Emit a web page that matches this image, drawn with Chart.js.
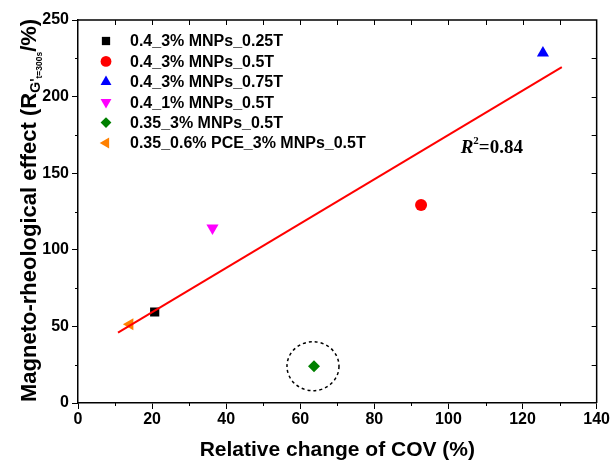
<!DOCTYPE html>
<html>
<head>
<meta charset="utf-8">
<script src="https://cdn.jsdelivr.net/npm/chart.js@4.4.1/dist/chart.umd.min.js"></script>
<style>
  body { margin: 0; background: #fff; }
</style>
</head>
<body>
<canvas id="scatterChart" width="611" height="462"></canvas>
<script>
// Séries (une mesure par échantillon)
var seriesLabels = ['0.4_3% MNPs_0.25T', '0.4_3% MNPs_0.5T', '0.4_3% MNPs_0.75T',
                    '0.4_1% MNPs_0.5T', '0.35_3% MNPs_0.5T', '0.35_0.6% PCE_3% MNPs_0.5T'];
var covChange = [20.7, 92.6, 125.5, 36.3, 63.7, 14.0];
var mrEffect  = [59.4, 129.2, 228.5, 114.2, 24.0, 51.4];

// droite de régression (extrémités)
var fitX = [10.8, 130.6];
var fitY = [45.9, 219.3];
var r2Value = '0.84';
var outlierIndex = 4;

var xTicks = [0, 20, 40, 60, 80, 100, 120, 140];
var yTicks = [0, 50, 100, 150, 200, 250];

var colors    = ['#000000', '#ff0000', '#0000ff', '#ff00ff', '#008000', '#ff8000'];
var styles    = ['rect', 'circle', 'triangle', 'triangle', 'rectRot', 'triangle'];
var rotations = [0, 0, 0, 180, 0, -90];
var radii     = [6.5, 6, 7, 7, 6, 7];

var sansFont = 'Liberation Sans, Arial, sans-serif';

var datasets = [{
    type: 'line',
    label: 'fit',
    data: fitX.map(function (x, i) { return { x: x, y: fitY[i] }; }),
    borderColor: '#ff0000',
    borderWidth: 2,
    pointRadius: 0,
    fill: false,
    order: -1
}];
seriesLabels.forEach(function (lab, i) {
    datasets.push({
        label: lab,
        data: [{ x: covChange[i], y: mrEffect[i] }],
        backgroundColor: colors[i],
        borderColor: colors[i],
        borderWidth: 0,
        pointStyle: styles[i],
        rotation: rotations[i],
        pointRadius: radii[i]
    });
});

// cadre, petites graduations, légende, titres
var decorations = {
    id: 'decorations',
    afterDatasetsDraw: function (chart) {
        var ctx = chart.ctx;
        var a = chart.chartArea;
        var xs = chart.scales.x, ys = chart.scales.y;
        ctx.save();
        ctx.strokeStyle = '#000';
        ctx.lineWidth = 1.5;
        ctx.beginPath();
        ctx.moveTo(a.left, a.top); ctx.lineTo(a.right, a.top); ctx.lineTo(a.right, a.bottom);
        ctx.stroke();

        ctx.lineWidth = 1;
        ctx.beginPath();
        for (var v = 10; v < 140; v += 10) {
            var px = Math.round(xs.getPixelForValue(v)) + 0.5;
            ctx.moveTo(px, a.top); ctx.lineTo(px, a.top + 5);
            if (v % 20 !== 0) { ctx.moveTo(px, a.bottom); ctx.lineTo(px, a.bottom + 3); }
        }
        for (var w = 25; w < 250; w += 25) {
            var py = Math.round(ys.getPixelForValue(w)) + 0.5;
            ctx.moveTo(a.right, py); ctx.lineTo(a.right - 5, py);
            if (w % 50 !== 0) { ctx.moveTo(a.left, py); ctx.lineTo(a.left - 3, py); }
        }
        ctx.stroke();

        // cercle pointillé autour de l'échantillon écarté
        var cx = xs.getPixelForValue(covChange[outlierIndex]);
        var cy = ys.getPixelForValue(mrEffect[outlierIndex]);
        ctx.setLineDash([3, 3]);
        ctx.lineWidth = 1.5;
        ctx.beginPath();
        ctx.ellipse(cx - 1, cy, 26, 24.5, 0, 0, Math.PI * 2);
        ctx.stroke();
        ctx.setLineDash([]);

        // légende
        ctx.font = 'bold 16px ' + sansFont;
        ctx.textBaseline = 'middle';
        ctx.textAlign = 'left';
        seriesLabels.forEach(function (lab, i) {
            var ly = 41 + i * 20.4;
            ctx.fillStyle = colors[i];
            Chart.helpers.drawPoint(ctx, {
                pointStyle: styles[i], rotation: rotations[i], radius: radii[i] * 0.9, borderWidth: 0
            }, 106, ly);
            ctx.fillStyle = '#000';
            ctx.fillText(lab, 130, ly + 1);
        });

        // R²
        var rx = xs.getPixelForValue(103.3);
        var ry = ys.getPixelForValue(163.2);
        ctx.textBaseline = 'alphabetic';
        ctx.fillStyle = '#000';
        ctx.font = 'italic bold 19px Liberation Serif, Times New Roman, serif';
        ctx.fillText('R', rx, ry);
        rx += ctx.measureText('R').width;
        ctx.font = 'bold 11px Liberation Serif, Times New Roman, serif';
        ctx.fillText('2', rx, ry - 9);
        rx += ctx.measureText('2').width;
        ctx.font = 'bold 19px Liberation Serif, Times New Roman, serif';
        ctx.fillText('=' + r2Value, rx, ry);

        // titre de l'axe x
        ctx.font = 'bold 21px ' + sansFont;
        ctx.textAlign = 'center';
        ctx.fillText('Relative change of COV (%)', (a.left + a.right) / 2, 456);

        // titre de l'axe y, avec indices
        ctx.translate(36, 402);
        ctx.rotate(-Math.PI / 2);
        ctx.textAlign = 'left';
        var u = 0;
        var parts = [
            ['Magneto-rheological effect (R', 'bold 22px', 0],
            ["G'", 'bold 14px', 4],
            ['t=300s', 'bold 8.5px', 6],
            ['/%)', 'bold 22px', 0]
        ];
        parts.forEach(function (p) {
            ctx.font = p[1] + ' ' + sansFont;
            ctx.fillText(p[0], u, p[2]);
            u += ctx.measureText(p[0]).width;
        });
        ctx.restore();
    }
};

var ctx = document.getElementById('scatterChart').getContext('2d');
var myChart = new Chart(ctx, {
    type: 'scatter',
    data: { datasets: datasets },
    options: {
        responsive: false,
        animation: false,
        layout: { padding: { top: 20, right: 13, left: 0, bottom: 0 } },
        plugins: { legend: { display: false }, tooltip: { enabled: false } },
        scales: {
            x: {
                min: 0, max: 140,
                afterFit: function (s) { s.height = 59; },
                afterBuildTicks: function (s) { s.ticks = xTicks.map(function (v) { return { value: v }; }); },
                grid: { drawOnChartArea: false, tickLength: 6, tickWidth: 1, tickColor: '#000' },
                border: { color: '#000', width: 1.5 },
                ticks: { color: '#000', padding: 1, maxRotation: 0, font: { family: sansFont, size: 16, weight: 'bold' } }
            },
            y: {
                min: 0, max: 250,
                afterFit: function (s) { s.width = 78; },
                afterBuildTicks: function (s) { s.ticks = yTicks.map(function (v) { return { value: v }; }); },
                grid: { drawOnChartArea: false, tickLength: 6, tickWidth: 1, tickColor: '#000' },
                border: { color: '#000', width: 1.5 },
                ticks: { color: '#000', padding: 3, font: { family: sansFont, size: 16, weight: 'bold' } }
            }
        }
    },
    plugins: [decorations]
});
</script>
</body>
</html>
